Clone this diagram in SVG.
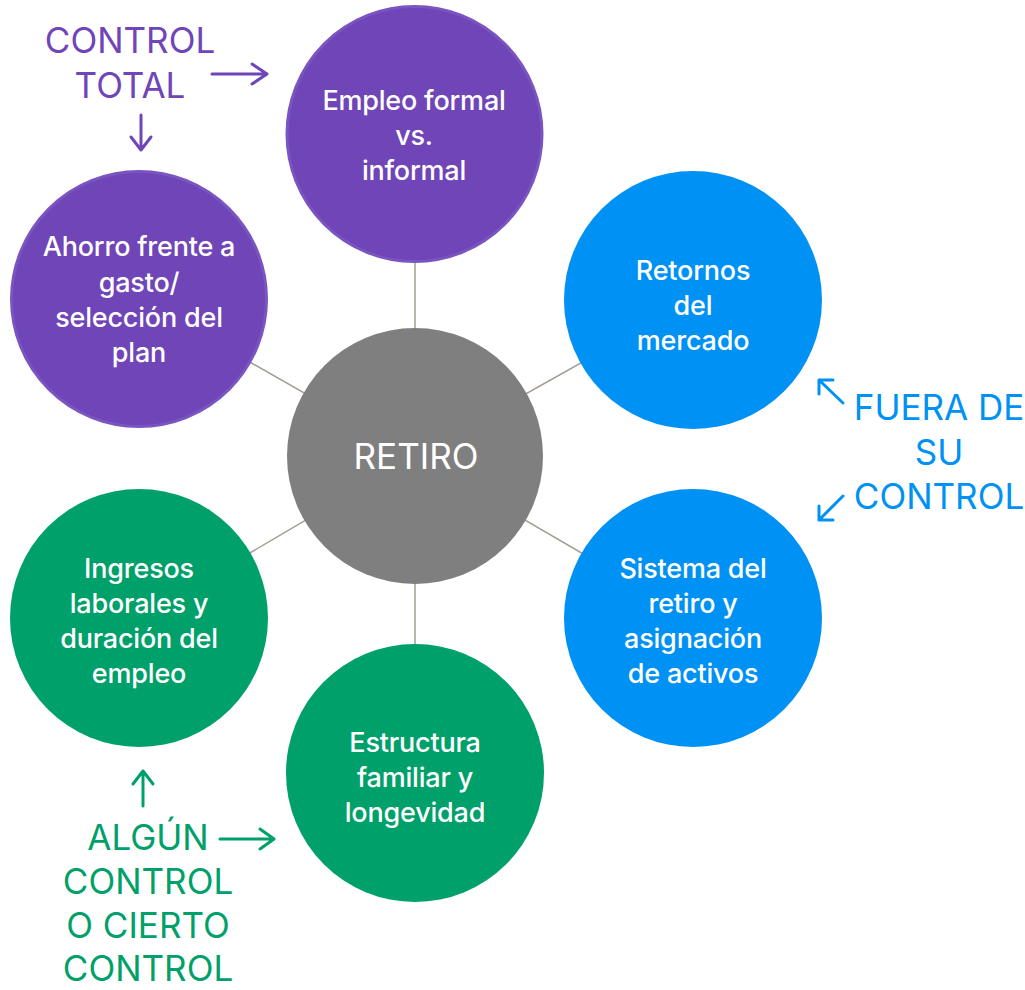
<svg xmlns="http://www.w3.org/2000/svg" width="1025" height="990" viewBox="0 0 1025 990">
<style>
.node text{font-family:Inter,"Noto Sans",sans-serif;font-size:27px;font-weight:500;fill:#fff;text-anchor:middle;letter-spacing:-0.2px}
.lbl{font-family:Inter,"Noto Sans",sans-serif;font-size:35px;text-anchor:middle}
.p{fill:#6F45B8}
.b{fill:#0091F4}
.g{fill:#00A06A}
.conn line{stroke:#A39C92;stroke-width:1.5}
.arr{fill:none;stroke-width:3;stroke-linecap:round;stroke-linejoin:round}
</style>
<rect width="1025" height="990" fill="#fff"/>
<g id="connectors" class="conn">
<line x1="415" y1="456" x2="415" y2="134"/>
<line x1="415" y1="456" x2="415" y2="773"/>
<line x1="415" y1="456" x2="139" y2="299"/>
<line x1="415" y1="456" x2="693" y2="300"/>
<line x1="415" y1="456" x2="139" y2="618"/>
<line x1="415" y1="456" x2="693" y2="618"/>
</g>
<g id="n-empleo" class="node">
<circle cx="414.5" cy="134" r="127.5" class="p" stroke="#7A54C0" stroke-width="3"/>
<text x="414" y="110">Empleo formal</text><text x="414" y="145">vs.</text><text x="414" y="180">informal</text>
</g>
<g id="n-ahorro" class="node">
<circle cx="139" cy="299" r="127.5" class="p" stroke="#7A54C0" stroke-width="3"/>
<text x="139" y="256">Ahorro frente a</text><text x="139" y="292">gasto/</text><text x="139" y="327">selección del</text><text x="139" y="362">plan</text>
</g>
<g id="n-retornos" class="node">
<circle cx="693" cy="300" r="129" class="b"/>
<text x="693" y="280">Retornos</text><text x="693" y="315">del</text><text x="693" y="350">mercado</text>
</g>
<g id="n-sistema" class="node">
<circle cx="693" cy="618" r="129" class="b"/>
<text x="693" y="578">Sistema del</text><text x="693" y="613">retiro y</text><text x="693" y="648">asignación</text><text x="693" y="683">de activos</text>
</g>
<g id="n-ingresos" class="node">
<circle cx="139" cy="618" r="129" class="g"/>
<text x="139" y="578">Ingresos</text><text x="139" y="613">laborales y</text><text x="139" y="648">duración del</text><text x="139" y="683">empleo</text>
</g>
<g id="n-estructura" class="node">
<circle cx="415" cy="773" r="129" class="g"/>
<text x="415" y="752">Estructura</text><text x="415" y="787">familiar y</text><text x="415" y="822">longevidad</text>
</g>
<g id="n-retiro" class="node">
<circle cx="415" cy="456" r="128" fill="#7F7F7F"/>
<text x="416" y="469" style="font-size:35px;font-weight:400;letter-spacing:0">RETIRO</text>
</g>
<g id="lbl-total">
<text class="lbl p" x="130" y="53">CONTROL</text>
<text class="lbl p" x="130" y="98">TOTAL</text>
<path class="arr" stroke="#6F45B8" d="M212 74H267M252 64L267 74L252 84"/>
<path class="arr" stroke="#6F45B8" d="M141 115V150M131 137L141 150L151 137"/>
</g>
<g id="lbl-fuera">
<text class="lbl b" x="939" y="420">FUERA DE</text>
<text class="lbl b" x="939" y="465">SU</text>
<text class="lbl b" x="939" y="509">CONTROL</text>
<path class="arr" stroke="#0091F4" d="M843 403L819 380M819 394L819 380L833 380"/>
<path class="arr" stroke="#0091F4" d="M843 496L819 520M819 506L819 520L833 520"/>
</g>
<g id="lbl-algun">
<text class="lbl g" x="148" y="850">ALGÚN</text>
<text class="lbl g" x="148" y="894">CONTROL</text>
<text class="lbl g" x="148" y="938">O CIERTO</text>
<text class="lbl g" x="148" y="981">CONTROL</text>
<path class="arr" stroke="#00A06A" d="M143 806V771M133 784L143 771L153 784"/>
<path class="arr" stroke="#00A06A" d="M220 839H274M260 829L274 839L260 849"/>
</g>
</svg>
